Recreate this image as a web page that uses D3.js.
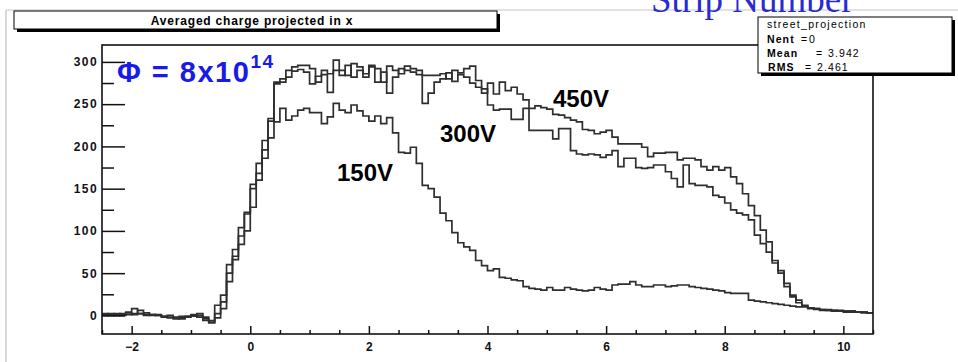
<!DOCTYPE html>
<html>
<head>
<meta charset="utf-8">
<script src="https://cdn.jsdelivr.net/npm/d3@7"></script>
<style>
  body { margin: 0; background: #fff; }
  svg { display: block; }
</style>
</head>
<body>
<svg id="chart" width="958" height="362"></svg>
<script>
// histogram binning (0.1 wide bins from -2.5 to 10.5)
const binStart = -2.5;
const binWidth = 0.1;

// averaged charge per strip bin, one row per unit of x
const counts150 = [
  1, 0, 2, 1, 3, 1, 2, 0, 1, 0,
  -1, 0, -2, -1, -1, 0, -2, -4, -6, -3,
  8, 40, 66, 94, 122, 155, 180, 207, 233, 229,
  245, 231, 236, 243, 245, 240, 240, 227, 235, 251,
  243, 240, 249, 242, 236, 230, 236, 227, 234, 216,
  193, 192, 199, 180, 154, 150, 140, 121, 112, 98,
  86, 81, 77, 65, 59, 53, 55, 45, 44, 42,
  41, 34, 32, 31, 30, 33, 30, 30, 33, 31,
  30, 29, 30, 33, 31, 30, 36, 37, 37, 40,
  36, 34, 34, 36, 36, 34, 35, 36, 36, 34,
  33, 32, 31, 30, 29, 27, 26, 26, 26, 18,
  17, 16, 15, 14, 13, 12, 11, 10, 10, 9,
  8, 7, 7, 6, 6, 5, 5, 4, 4, 3
];
const counts300 = [
  0, 2, 1, 0, 1, 2, 6, 3, 1, 0,
  -2, -3, -3, -4, -1, 1, 2, -6, -8, 2,
  16, 50, 70, 84, 100, 128, 160, 186, 210, 276,
  276, 282, 289, 291, 288, 274, 283, 285, 264, 290,
  284, 296, 282, 290, 286, 294, 276, 288, 263, 282,
  292, 290, 288, 285, 251, 263, 276, 280, 287, 277,
  285, 282, 275, 270, 268, 249, 243, 244, 244, 232,
  232, 245, 219, 219, 219, 219, 209, 221, 221, 195,
  191, 190, 191, 190, 187, 190, 195, 176, 186, 186,
  175, 174, 175, 178, 178, 170, 162, 152, 178, 156,
  154, 154, 152, 142, 140, 133, 125, 121, 119, 113,
  95, 85, 75, 62, 50, 34, 22, 15, 11, 8,
  7, 6, 6, 5, 5, 4, 4, 4, 3, 3
];
const counts450 = [
  2, 1, 0, 2, 4, 8, 2, 1, 0, 1,
  -1, -2, -4, -3, -2, -1, 0, -2, -9, 12,
  24, 60, 78, 104, 120, 150, 168, 196, 230, 274,
  280, 290, 294, 296, 296, 292, 276, 290, 286, 302,
  290, 284, 298, 294, 282, 296, 292, 276, 295, 290,
  286, 295, 292, 290, 284, 284, 284, 286, 280, 290,
  287, 292, 295, 278, 263, 275, 262, 276, 266, 270,
  262, 255, 245, 248, 246, 244, 238, 237, 234, 231,
  229, 220, 219, 215, 217, 219, 211, 203, 203, 203,
  203, 199, 188, 192, 192, 193, 193, 184, 186, 186,
  184, 176, 172, 176, 172, 175, 164, 156, 144, 130,
  118, 101, 87, 65, 53, 38, 24, 18, 12, 9,
  8, 7, 6, 6, 5, 5, 5, 4, 4, 3
];

const xMajorTicks = [-2, 0, 2, 4, 6, 8, 10];
const xMinorTicks = [-2.5, -1.5, -1, -0.5, 0.5, 1, 1.5, 2.5, 3, 3.5, 4.5, 5, 5.5, 6.5, 7, 7.5, 8.5, 9, 9.5, 10.5];
const yMajorTicks = [0, 50, 100, 150, 200, 250, 300];
const yMinorTicks = [25, 75, 125, 175, 225, 275];

const curveLabels = [
  { text: '450V', x: 553, y: 107 },
  { text: '300V', x: 440, y: 142 },
  { text: '150V', x: 337, y: 181 }
];
const statsLines = [
  ['Nent', '=', '0'],
  ['Mean', '=', '3.942'],
  ['RMS', '=', '2.461']
];

const svg = d3.select('#chart');
const rootFont = '"Liberation Sans", Arial, Helvetica, sans-serif';

// page border from the slide
svg.append('line').attr('x1', 6).attr('x2', 958).attr('y1', 10).attr('y2', 10)
  .attr('stroke', '#d8d8d8').attr('stroke-width', 1.5);
svg.append('line').attr('x1', 6).attr('x2', 6).attr('y1', 10).attr('y2', 362)
  .attr('stroke', '#d8d8d8').attr('stroke-width', 2);

svg.append('text')
  .attr('x', 651).attr('y', 12)
  .attr('font-family', '"Liberation Serif", "Times New Roman", serif')
  .attr('font-size', 37)
  .attr('fill', '#2a2ad0')
  .text('Strip Number');

const x = d3.scaleLinear().domain([-2.5, 10.5]).range([102, 873]);
const y = d3.scaleLinear().domain([-22, 320]).range([334, 45]);

// histograms
const line = d3.line()
  .x(d => x(d[0]))
  .y(d => y(d[1]))
  .curve(d3.curveStepAfter);

function histPoints(values) {
  const pts = values.map((v, i) => [binStart + i * binWidth, v]);
  pts.push([binStart + values.length * binWidth, values[values.length - 1]]);
  return pts;
}

const plot = svg.append('g');
[counts150, counts300, counts450].forEach(series => {
  plot.append('path')
    .datum(histPoints(series))
    .attr('d', line)
    .attr('fill', 'none')
    .attr('stroke', '#2e2e2e')
    .attr('stroke-width', 1.7);
});

// axes
const yAxis = svg.append('g')
  .attr('transform', `translate(${x.range()[0]},0)`)
  .call(d3.axisLeft(y).tickValues(yMajorTicks).tickSize(-23).tickPadding(4));
svg.append('g')
  .attr('transform', `translate(${x.range()[0]},0)`)
  .call(d3.axisLeft(y).tickValues(yMinorTicks).tickSize(-12).tickFormat(''));

const xAxis = svg.append('g')
  .attr('transform', `translate(0,${y.range()[0]})`)
  .call(d3.axisBottom(x).tickValues(xMajorTicks).tickSize(-8).tickPadding(8));
svg.append('g')
  .attr('transform', `translate(0,${y.range()[0]})`)
  .call(d3.axisBottom(x).tickValues(xMinorTicks).tickSize(-4).tickFormat(''));

svg.selectAll('.domain').remove();
svg.selectAll('.tick line').attr('stroke', '#111').attr('stroke-width', 1.5);
svg.selectAll('.tick text')
  .attr('font-family', rootFont)
  .attr('font-weight', 'bold')
  .attr('font-size', 12)
  .attr('fill', '#111');
yAxis.selectAll('.tick text').attr('letter-spacing', 1.4);

// frame
svg.append('rect')
  .attr('x', x.range()[0]).attr('y', y.range()[1])
  .attr('width', x.range()[1] - x.range()[0])
  .attr('height', y.range()[0] - y.range()[1])
  .attr('fill', 'none')
  .attr('stroke', '#111')
  .attr('stroke-width', 1.6);

// title box
svg.append('rect').attr('x', 17).attr('y', 14).attr('width', 483).attr('height', 18).attr('fill', '#000');
svg.append('rect').attr('x', 14).attr('y', 11).attr('width', 483).attr('height', 18)
  .attr('fill', '#fff').attr('stroke', '#000').attr('stroke-width', 1);
svg.append('text')
  .attr('x', 252).attr('y', 25)
  .attr('text-anchor', 'middle')
  .attr('font-family', rootFont)
  .attr('font-weight', 'bold')
  .attr('font-size', 12)
  .attr('letter-spacing', 0.8)
  .text('Averaged charge projected in x');

// stats box
svg.append('rect').attr('x', 761).attr('y', 20).attr('width', 194).attr('height', 56).attr('fill', '#000');
svg.append('rect').attr('x', 758).attr('y', 17).attr('width', 194).attr('height', 56)
  .attr('fill', '#fff').attr('stroke', '#000').attr('stroke-width', 1);
svg.append('text')
  .attr('x', 767).attr('y', 28)
  .attr('font-family', rootFont)
  .attr('font-size', 10.5)
  .attr('letter-spacing', 1.3)
  .text('street_projection');

const statCols = [
  [767, 801, 809],
  [767, 816, 828],
  [768, 805, 817]
];
statsLines.forEach((row, i) => {
  const t = svg.append('text')
    .attr('y', 42.5 + i * 14.3)
    .attr('font-family', rootFont)
    .attr('font-size', 10.5)
    .attr('letter-spacing', 1.1);
  row.forEach((s, j) => {
    t.append('tspan')
      .attr('x', statCols[i][j])
      .attr('font-weight', j === 0 ? 'bold' : 'normal')
      .text(s);
  });
});

// fluence label
const phi = svg.append('text')
  .attr('x', 117).attr('y', 82)
  .attr('font-family', rootFont)
  .attr('font-weight', 'bold')
  .attr('font-size', 29)
  .attr('letter-spacing', 1.5)
  .attr('fill', '#1a1ae8');
phi.append('tspan').text('\u03A6 = 8x10');
phi.append('tspan').attr('dy', -14).attr('font-size', 19).text('14');

// voltage labels
svg.selectAll('.vlabel')
  .data(curveLabels)
  .join('text')
  .attr('class', 'vlabel')
  .attr('x', d => d.x).attr('y', d => d.y)
  .attr('font-family', rootFont)
  .attr('font-weight', 'bold')
  .attr('font-size', 24)
  .text(d => d.text);
</script>
</body>
</html>
